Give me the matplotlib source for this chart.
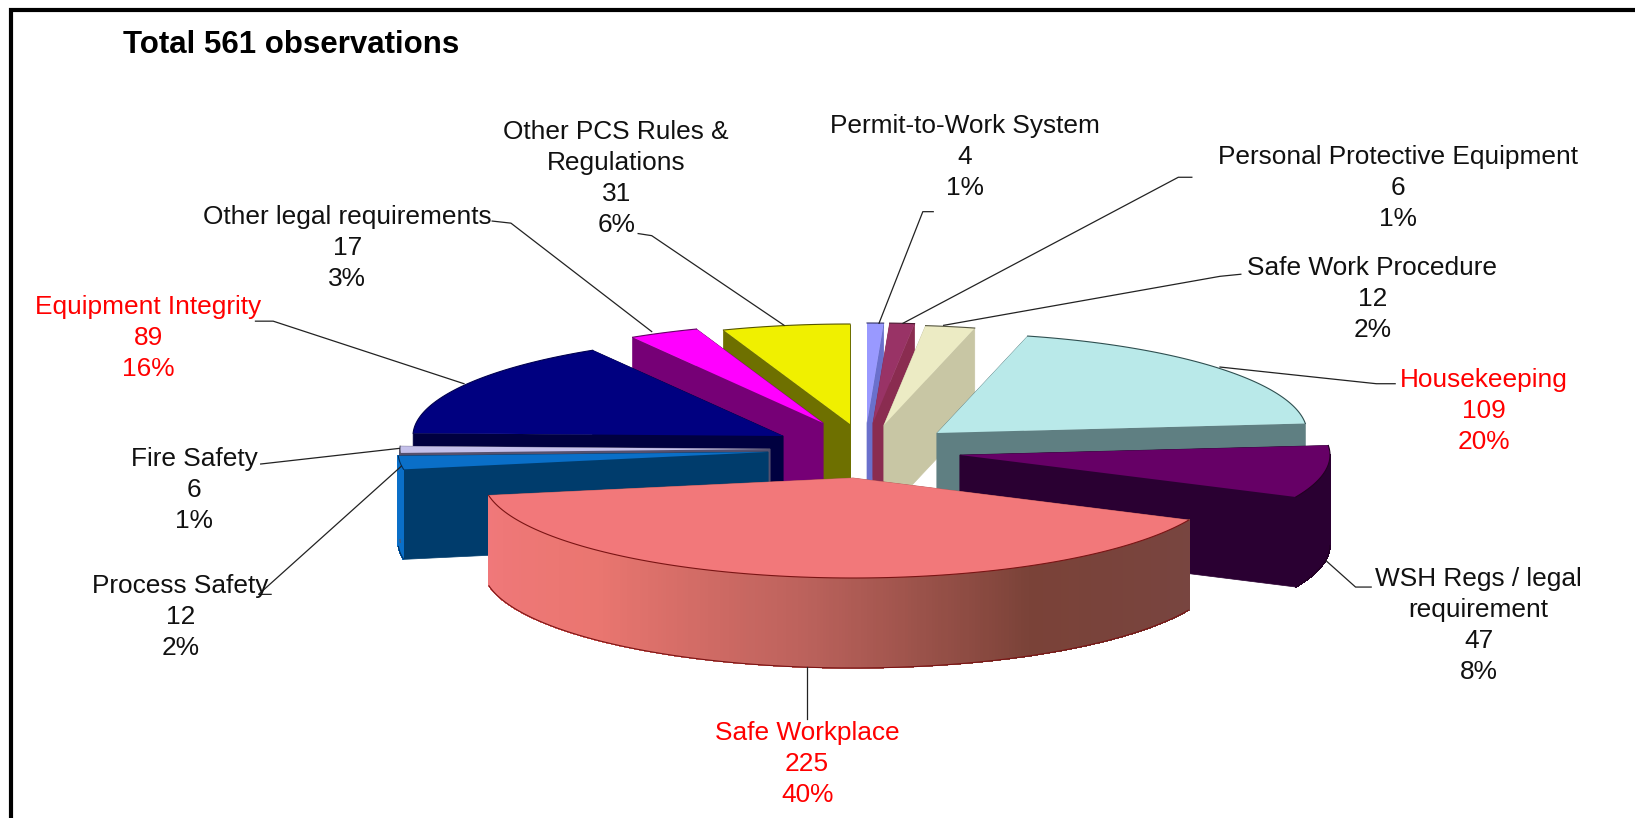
import numpy as np
import matplotlib
matplotlib.use("Agg")
import matplotlib.pyplot as plt
from matplotlib.patches import Polygon
from matplotlib.collections import PolyCollection
from matplotlib.colors import LinearSegmentedColormap

plt.rcParams["font.family"] = ["Liberation Sans", "DejaVu Sans"]

# Data, clockwise from 12 o'clock
names = ["Permit-to-Work System", "Personal Protective Equipment", "Safe Work Procedure",
         "Housekeeping", "WSH Regs / legal\nrequirement", "Safe Workplace", "Process Safety",
         "Fire Safety", "Equipment Integrity", "Other legal requirements",
         "Other PCS Rules &\nRegulations"]
counts = [4, 6, 12, 109, 47, 225, 12, 6, 89, 17, 31]
percents = [1, 1, 2, 20, 8, 40, 2, 1, 16, 3, 6]
title = "Total 561 observations"

# Slice look
top_colors = ["#9999ff", "#993366", "#ecebc4", "#b9e9e9", "#660066", "#f2787a",
              "#0a6fc8", "#c4c0ea", "#000080", "#ff00ff", "#f0f000"]
wall_colors = ["#6a70cc", "#8a2c50", "#c8c6a4", "#5f7f82", "#2a0032", "#b85a58",
               "#003c6c", "#55506e", "#000040", "#760076", "#6e7000"]
arc_colors = ["#6a70cc", "#8a2c50", "#c8c6a4", "#5f7f82", "#2a0032", None,
              "#0a6fc8", "#55506e", "#000040", "#760076", "#6e7000"]
edge_colors = ["#333366", "#4a1830", "#555540", "#2f4f50", "#220022", "#7a1414",
               "#003060", "#555566", "#000050", "#660066", "#555500"]

# Exploded apex of every slice in pixels
apex_x = [867, 873, 884, 937, 960, 853, 768, 770, 783, 823, 850]
apex_y = [423, 423, 425, 433, 455, 478, 452, 449, 436, 423, 424]
draw_order = [0, 1, 2, 10, 9, 3, 8, 4, 7, 6, 5]

RX, RY, DEPTH = 370, 100, 90
S = 1635 / 1568  # label positions below

label_x = [925, 1341, 1316, 1423, 1418, 774, 173, 186, 142, 333, 591]
label_y = [151, 180, 287, 394, 600, 733, 592, 470, 324, 238, 171]
red_labels = [3, 5, 8]
leaders = [
    [(895, 203), (885, 203), (843, 310)],
    [(1143, 170), (1130, 170), (866, 310)],
    [(1190, 263), (1170, 265), (905, 312)],
    [(1338, 368), (1320, 368), (1170, 352)],
    [(1315, 563), (1300, 563), (1272, 538)],
    [(774, 690), (774, 640)],
    [(260, 570), (248, 570), (385, 447)],
    [(250, 445), (383, 430)],
    [(245, 308), (262, 308), (445, 368)],
    [(472, 212), (490, 214), (625, 318)],
    [(612, 224), (625, 226), (752, 312)],
]

fig = plt.figure(figsize=(16.35, 8.18), dpi=100, facecolor="white")
ax = fig.add_axes([0, 0, 1, 1])
ax.set_xlim(0, 1635)
ax.set_ylim(818, 0)
ax.axis("off")

# Slice angles come from the counts
edges = np.deg2rad(np.concatenate([[0], np.cumsum(counts)]) / sum(counts) * 360)


def rim(i, a):
    return apex_x[i] + RX * np.sin(a), apex_y[i] - RY * np.cos(a)


salmon = LinearSegmentedColormap.from_list("salmon", ["#f0787a", "#ea7670", "#bc625c", "#7a4238", "#784540"])


def draw_slice(i):
    a0, a1 = edges[i], edges[i + 1]
    ax0, ay0 = apex_x[i], apex_y[i]
    for a in (a0, a1):
        x, y = rim(i, a)
        wall = [(ax0, ay0), (x, y), (x, y + DEPTH), (ax0, ay0 + DEPTH)]
        ax.add_patch(Polygon(wall, closed=True, fc=wall_colors[i], ec=wall_colors[i], lw=0.5))

    # outer wall, only the part that faces the viewer
    lo, hi = max(a0, np.pi / 2), min(a1, 3 * np.pi / 2)
    if hi > lo:
        t = np.linspace(lo, hi, 300)
        px, py = rim(i, t)
        quads = [[(px[k], py[k]), (px[k + 1], py[k + 1]), (px[k + 1], py[k + 1] + DEPTH), (px[k], py[k] + DEPTH)]
                 for k in range(len(t) - 1)]
        if arc_colors[i] is None:
            # gradient runs from left (light) to right (dark)
            frac = 1 - (t[:-1] - lo) / (hi - lo)
            cols = [salmon(f) for f in frac]
        else:
            cols = [arc_colors[i]] * len(quads)
        ax.add_collection(PolyCollection(quads, facecolors=cols, edgecolors=cols, linewidths=0.5, antialiaseds=False))
        ax.plot(px, py + DEPTH, color=edge_colors[i], lw=0.8, solid_capstyle="butt")

    # top face
    t = np.linspace(a0, a1, 120)
    px, py = rim(i, t)
    pts = [(ax0, ay0)] + list(zip(px, py))
    ax.add_patch(Polygon(pts, closed=True, fc=top_colors[i], ec="none"))
    ax.plot(px, py, color=edge_colors[i], lw=0.8)


for i in draw_order:
    draw_slice(i)

for i in range(len(names)):
    xs = [p[0] * S for p in leaders[i]]
    ys = [p[1] * S for p in leaders[i]]
    ax.plot(xs, ys, color="#222222", lw=0.9)
    color = "#ff0000" if i in red_labels else "#111111"
    ax.text(label_x[i] * S, label_y[i] * S, f"{names[i]}\n{counts[i]}\n{percents[i]}%",
            ha="center", va="center", ma="center", fontsize=18.9, color=color, linespacing=1.37)

ax.text(123, 45, title, fontsize=22.5, fontweight="bold", color="black", ha="left", va="center")

# frame: top and left sides only reach the picture's edge
ax.plot([11, 11, 1635], [818, 10, 10], color="black", lw=3.0, solid_joinstyle="miter")

fig.savefig("out.png", dpi=100)
